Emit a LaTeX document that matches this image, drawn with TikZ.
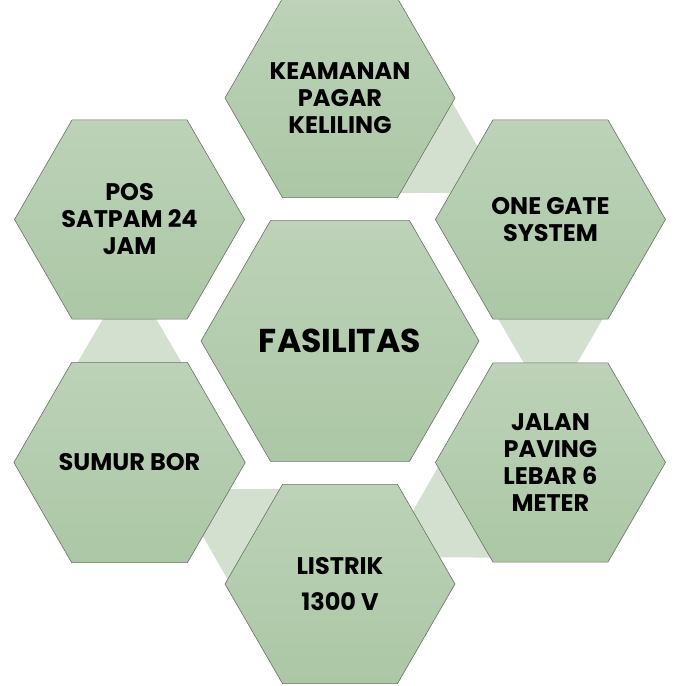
\documentclass[tikz,border=0pt]{standalone}
\usepackage{fontspec}
\setmainfont{Poppins}
\usetikzlibrary{shapes.geometric, calc, backgrounds}

\definecolor{hextop}{RGB}{189,210,184}
\definecolor{hexbot}{RGB}{171,199,165}
\definecolor{hexline}{RGB}{105,115,100}
\definecolor{linkfill}{RGB}{211,224,208}

\begin{document}
\begin{tikzpicture}[x=1pt, y=1pt,
    hexa/.style={regular polygon, regular polygon sides=6, draw=hexline, line width=0.6pt, top color=hextop, bottom color=hexbot, inner sep=0pt, outer sep=0pt, minimum size=230pt, align=center, font=\fontsize{24}{27}\selectfont\bfseries},
    bighexa/.style={hexa, minimum size=278pt, font=\fontsize{33}{40}\selectfont\bfseries},
    link/.style={fill=linkfill, draw=none}
]
    \useasboundingbox (-340,-345) rectangle (334,341);

    \node[bighexa] (fasilitas) at (0,0) {FASILITAS};

    \node[hexa] (keamanan) at (90:243) {KEAMANAN\\PAGAR\\KELILING};
    \node[hexa] (onegate) at (30:243) {ONE GATE\\SYSTEM};
    \node[hexa] (jalan) at (-30:243) {JALAN\\PAVING\\LEBAR 6\\METER};
    \node[hexa] (listrik) at (-90:243) {LISTRIK\\[9pt]1300 V};
    \node[hexa] (sumur) at (-150:243) {SUMUR BOR};
    \node[hexa] (pos) at (150:243) {POS\\SATPAM 24\\JAM};

    % light links between neighbouring hexagons
    \begin{scope}[on background layer]
    \foreach \a/\b/\r in {onegate/jalan/0, keamanan/onegate/60, sumur/pos/180, listrik/sumur/240, jalan/listrik/300}
        \fill[link, shift={($(\a)!0.5!(\b)$)}, rotate=\r] (-57,30) -- (57,30) -- (22,-30) -- (-22,-30) -- cycle;
    \end{scope}
\end{tikzpicture}
\end{document}
